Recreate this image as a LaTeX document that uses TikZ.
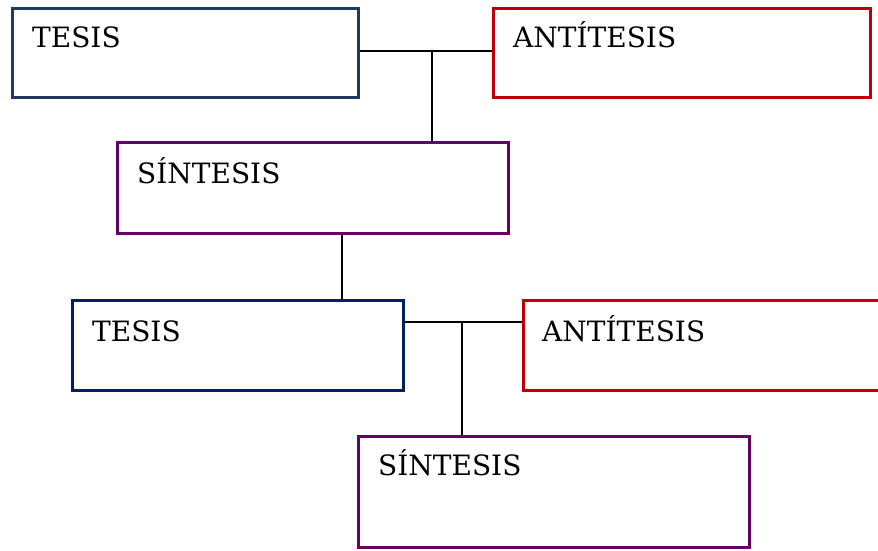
\documentclass[tikz,border=0pt]{standalone}
\usepackage{fontspec}
\setmainfont{DejaVu Serif}
\usetikzlibrary{calc}
\definecolor{slateblue}{HTML}{1F3864}
\definecolor{navyblue}{HTML}{002060}
\definecolor{darkred}{HTML}{C00000}
\definecolor{plum}{HTML}{660066}
\tikzset{
  framebox/.style={draw, line width=3pt, rectangle, inner sep=0pt, anchor=north west},
  caption/.style={anchor=base west, inner sep=0pt, font=\fontsize{28}{32}\selectfont},
  link/.style={draw=black, line width=1.5pt}
}
\begin{document}
\begin{tikzpicture}[x=1pt,y=1pt]
  \useasboundingbox (0,0) rectangle (878,-550);
  \clip (0,0) rectangle (878,-550);
  % first triad
  \node[framebox, draw=slateblue, minimum width=346, minimum height=89] (t1) at (11,-7) {};
  \node[framebox, draw=darkred, minimum width=377, minimum height=89] (a1) at (492,-7) {};
  \node[framebox, draw=plum, minimum width=391, minimum height=91] (s1) at (116,-141) {};
  % second triad
  \node[framebox, draw=navyblue, minimum width=331, minimum height=90] (t2) at (71,-299) {};
  \node[framebox, draw=darkred, minimum width=400, minimum height=90] (a2) at (522,-299) {};
  \node[framebox, draw=plum, minimum width=391, minimum height=111] (s2) at (357,-435) {};
  % labels
  \node[caption] (lt1) at ($(t1.north west)+(21,-40)$) {TESIS};
  \node[caption] (la1) at ($(a1.north west)+(21,-40)$) {ANTÍTESIS};
  \node[caption] (ls1) at ($(s1.north west)+(21,-42)$) {SÍNTESIS};
  \node[caption] (lt2) at ($(t2.north west)+(21,-42)$) {TESIS};
  \node[caption] (la2) at ($(a2.north west)+(20,-42)$) {ANTÍTESIS};
  \node[caption] (ls2) at ($(s2.north west)+(21,-40)$) {SÍNTESIS};
  % connectors
  \coordinate (j1) at (432,-51);
  \coordinate (k1) at (342,-260);
  \coordinate (j2) at (462,-322);
  \draw[link] (t1.east |- j1) -- (a1.west |- j1);
  \draw[link] (j1) -- (j1 |- s1.north);
  \draw[link] (s1.south -| k1) -- (t2.north -| k1);
  \draw[link] (t2.east |- j2) -- (a2.west |- j2);
  \draw[link] (j2) -- (j2 |- s2.north);
\end{tikzpicture}
\end{document}
